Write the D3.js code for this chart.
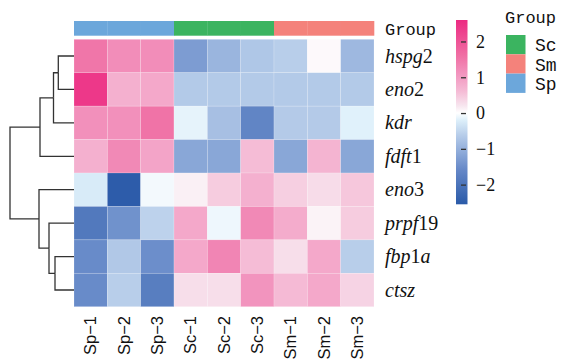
<!DOCTYPE html>
<html>
<head>
<meta charset="utf-8">
<script src="https://cdn.jsdelivr.net/npm/d3@7"></script>
<style>
  body { margin: 0; background: #fff; }
  svg { display: block; }
</style>
</head>
<body>
<div class="chart"></div>
<script>
// heatmap of scaled expression, rows clustered

var svgWidth = 561;
var svgHeight = 362;

var samples = ["Sp-1", "Sp-2", "Sp-3", "Sc-1", "Sc-2", "Sc-3", "Sm-1", "Sm-2", "Sm-3"];
var sampleLabels = ["Sp\u22121", "Sp\u22122", "Sp\u22123", "Sc\u22121", "Sc\u22122", "Sc\u22123", "Sm\u22121", "Sm\u22122", "Sm\u22123"];
var sampleGroup = ["Sp", "Sp", "Sp", "Sc", "Sc", "Sc", "Sm", "Sm", "Sm"];

var genes = ["hspg2", "eno2", "kdr", "fdft1", "eno3", "prpf19", "fbp1a", "ctsz"];

var hspg2  = [1.5, 1.2, 1.2, -1.3, -0.95, -0.7, -0.6, 0.05, -0.9];
var eno2   = [2.4, 0.75, 0.85, -0.66, -0.66, -0.66, -0.66, -0.66, -0.66];
var kdr    = [1.15, 1.15, 1.55, -0.15, -0.8, -1.65, -0.65, -0.65, -0.18];
var fdft1  = [0.75, 1.25, 0.9, -1.15, -1.15, 0.6, -1.15, 0.7, -1.15];
var eno3   = [-0.25, -2.5, -0.07, 0.12, 0.45, 0.75, 0.42, 0.3, 0.5];
var prpf19 = [-1.9, -1.45, -0.55, 0.85, -0.1, 1.25, 0.8, 0.1, 0.45];
var fbp1a  = [-1.55, -0.68, -1.5, 0.85, 1.3, 0.6, 0.28, 0.85, -0.6];
var ctsz   = [-1.55, -0.6, -1.8, 0.28, 0.28, 1.1, 0.62, 0.85, 0.38];
var values = [hspg2, eno2, kdr, fdft1, eno3, prpf19, fbp1a, ctsz];

// row dendrogram (merge heights)
var rowTree = { h: 6.4, children: [
  { h: 3.4, children: [
    { h: 2.05, children: [
      { h: 1.57, children: [{ name: "hspg2" }, { name: "eno2" }] },
      { name: "kdr" }
    ] },
    { name: "fdft1" }
  ] },
  { h: 3.5, children: [
    { name: "eno3" },
    { h: 2.5, children: [
      { name: "prpf19" },
      { h: 1.9, children: [{ name: "fbp1a" }, { name: "ctsz" }] }
    ] }
  ] }
] };

var groupNames = ["Sc", "Sm", "Sp"];
var groupColors = ["#3bb460", "#f4827b", "#6ca7db"];

var colorTicks = [-2, -1, 0, 1, 2];
var colorDomain = [-2.55, -1.6, -0.9, -0.6, -0.2, 0, 0.2, 0.6, 1.1, 1.6, 2.6];
var colorRange = ["#2a5aa8", "#6487c7", "#9eb8e0", "#b8ceea", "#ddeffa", "#ffffff",
                  "#f7e6ef", "#f5bcd6", "#f294be", "#f06fa4", "#ec2a82"];

var svg = d3.select(".chart")
  .append("svg")
  .attr("width", svgWidth)
  .attr("height", svgHeight);

var color = d3.scaleLinear().domain(colorDomain).range(colorRange);
var groupColor = d3.scaleOrdinal().domain(groupNames).range(groupColors);

var x = d3.scaleBand().domain(samples).range([74, 374]);
var y = d3.scaleBand().domain(genes).range([39.3, 306.7]);

// annotation bar
svg.append("g").selectAll("rect")
  .data(samples)
  .enter().append("rect")
    .attr("x", function(d) { return x(d); })
    .attr("y", 21)
    .attr("width", x.bandwidth() + 0.3)
    .attr("height", 14.7)
    .attr("fill", function(d, i) { return groupColor(sampleGroup[i]); });

// cells
var cells = [];
values.forEach(function(row, r) {
  row.forEach(function(v, c) {
    cells.push({ gene: genes[r], sample: samples[c], value: v });
  });
});

svg.append("g").selectAll("rect")
  .data(cells)
  .enter().append("rect")
    .attr("x", function(d) { return x(d.sample); })
    .attr("y", function(d) { return y(d.gene); })
    .attr("width", x.bandwidth())
    .attr("height", y.bandwidth())
    .attr("fill", function(d) { return color(d.value); })
    .attr("stroke", "rgba(255,255,255,0.3)")
    .attr("stroke-width", 0.6);

// dendrogram
var root = d3.hierarchy(rowTree);
var hx = d3.scaleLinear().domain([0, rowTree.h]).range([74, 10]);

root.eachAfter(function(n) {
  if (!n.children) {
    n.px = hx(0);
    n.py = y(n.data.name) + y.bandwidth() / 2;
  } else {
    n.px = hx(n.data.h);
    n.py = d3.mean(n.children, function(c) { return c.py; });
  }
});

svg.append("g").selectAll("path")
  .data(root.links())
  .enter().append("path")
    .attr("fill", "none")
    .attr("stroke", "#333")
    .attr("stroke-width", 1.3)
    .attr("d", function(l) {
      return "M" + l.source.px + "," + l.source.py +
        "V" + l.target.py + "H" + l.target.px;
    });

// row labels
var rowLabels = svg.append("g").selectAll("text")
  .data(genes)
  .enter().append("text")
    .attr("x", 385)
    .attr("y", function(d) { return y(d) + y.bandwidth() / 2; })
    .attr("dy", "0.33em")
    .style("font-family", "'Liberation Serif', serif")
    .style("font-size", "20px")
    .style("fill", "#111");

rowLabels.each(function(d) {
  var t = d3.select(this);
  var parts = d.match(/[a-z]+|[0-9]+/g);
  parts.forEach(function(p) {
    t.append("tspan")
      .style("font-style", /[0-9]/.test(p) ? "normal" : "italic")
      .text(p);
  });
});

svg.append("text")
  .attr("x", 385)
  .attr("y", 29)
  .attr("dy", "0.35em")
  .style("font-family", "'Liberation Mono', monospace")
  .style("font-size", "17px")
  .style("fill", "#111")
  .text("Group");

// column labels
svg.append("g").selectAll("text")
  .data(samples)
  .enter().append("text")
    .attr("transform", function(d) {
      return "translate(" + (x(d) + x.bandwidth() / 2) + ",316) rotate(-90)";
    })
    .attr("dy", "0.35em")
    .attr("text-anchor", "end")
    .style("font-family", "'Liberation Sans', Arial, sans-serif")
    .style("font-size", "16.5px")
    .style("fill", "#111")
    .text(function(d, i) { return sampleLabels[i]; });

// colour key
var cbTop = 20, cbBottom = 204.3;
var cy = d3.scaleLinear().domain([-2.55, 2.6]).range([cbBottom, cbTop]);

var grad = svg.append("defs").append("linearGradient")
  .attr("id", "key")
  .attr("x1", 0).attr("y1", 1).attr("x2", 0).attr("y2", 0);

grad.selectAll("stop")
  .data(colorDomain)
  .enter().append("stop")
    .attr("offset", function(d) { return (d - colorDomain[0]) / (colorDomain[colorDomain.length - 1] - colorDomain[0]); })
    .attr("stop-color", function(d) { return color(d); });

svg.append("rect")
  .attr("x", 456)
  .attr("y", cbTop)
  .attr("width", 11.5)
  .attr("height", cbBottom - cbTop)
  .attr("fill", "url(#key)");

var keyAxis = d3.axisRight(cy)
  .tickValues(colorTicks)
  .tickSize(-5)
  .tickPadding(10)
  .tickFormat(function(d) { return d < 0 ? "\u2212" + Math.abs(d) : d; });

var keyG = svg.append("g")
  .attr("transform", "translate(466,0)")
  .call(keyAxis);

keyG.select(".domain").remove();
keyG.selectAll(".tick line").attr("stroke", "#333").attr("stroke-width", 1.3);
keyG.selectAll(".tick text")
  .style("font-family", "'Liberation Serif', serif")
  .style("font-size", "18px")
  .style("fill", "#111");

// group legend
svg.append("text")
  .attr("x", 505)
  .attr("y", 17)
  .attr("dy", "0.35em")
  .style("font-family", "'Liberation Mono', monospace")
  .style("font-size", "17px")
  .style("fill", "#111")
  .text("Group");

var legend = svg.append("g").selectAll("g")
  .data(groupNames)
  .enter().append("g")
    .attr("transform", function(d, i) { return "translate(506," + (35 + i * 19.3) + ")"; });

legend.append("rect")
  .attr("width", 19.5)
  .attr("height", 19.3)
  .attr("fill", function(d) { return groupColor(d); });

legend.append("text")
  .attr("x", 29)
  .attr("y", 10)
  .attr("dy", "0.35em")
  .style("font-family", "'Liberation Mono', monospace")
  .style("font-size", "18px")
  .style("fill", "#111")
  .text(function(d) { return d; });
</script>
</body>
</html>
